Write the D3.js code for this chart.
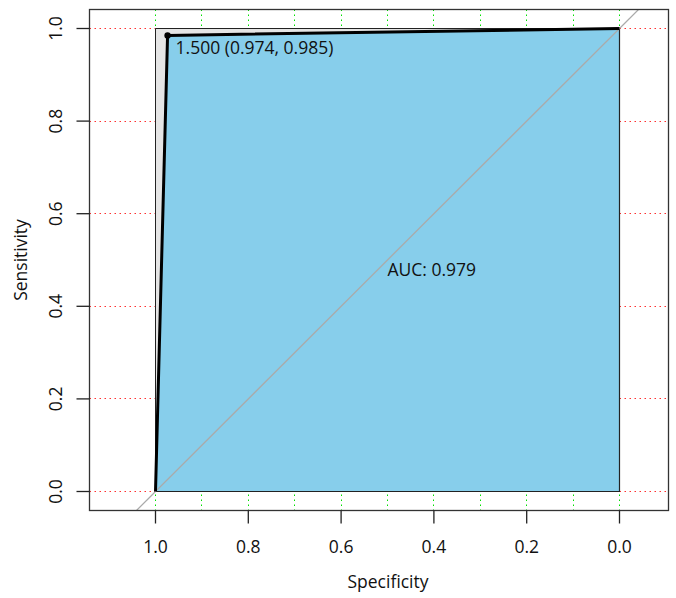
<!DOCTYPE html>
<html><head><meta charset="utf-8">
<script src="https://cdn.jsdelivr.net/npm/d3@7"></script>
<style>body{margin:0;background:#fff}svg{display:block}text{font-family:"Open Sans","Noto Sans",sans-serif;fill:#111}</style>
</head><body>
<script>
const specificity = [1, 0.974, 0];
const sensitivity = [0, 0.985, 1];
const xTicks = [1.0, 0.8, 0.6, 0.4, 0.2, 0.0];
const yTicks = [0.0, 0.2, 0.4, 0.6, 0.8, 1.0];
const xGrid = [1.0, 0.9, 0.8, 0.7, 0.6, 0.5, 0.4, 0.3, 0.2, 0.1, 0.0];
const thresholdLabel = "1.500 (0.974, 0.985)";
const aucLabel = "AUC: 0.979";

const W = 676, H = 598, FS = 17.5;
const box = {l: 89.5, r: 668.5, t: 9.5, b: 510.5};
const x = d3.scaleLinear().domain([1, 0]).range([155.5, 619.5]);
const y = d3.scaleLinear().domain([0, 1]).range([491.5, 28.5]);
const snap = v => Math.round(v - 0.5) + 0.5;

const svg = d3.select("body").append("svg").attr("width", W).attr("height", H);
const defs = svg.append("defs");
defs.append("clipPath").attr("id","clip").append("rect")
  .attr("x", box.l).attr("y", box.t).attr("width", box.r-box.l).attr("height", box.b-box.t);

// grids
svg.append("g").selectAll("line").data(yTicks).join("line")
  .attr("x1", box.l).attr("x2", box.r).attr("y1", d=>snap(y(d))).attr("y2", d=>snap(y(d)))
  .attr("stroke","#ff3030").attr("stroke-width",1).attr("stroke-dasharray","1.5,3.5");
svg.append("g").selectAll("line").data(xGrid).join("line")
  .attr("y1", box.t).attr("y2", box.b).attr("x1", d=>snap(x(d))).attr("x2", d=>snap(x(d)))
  .attr("stroke","#00e000").attr("stroke-width",1).attr("stroke-dasharray","1.5,3.5");

// max AUC polygon (grey)
const maxPoly = [[1,0],[1,1],[0,1],[0,0]];
svg.append("path")
  .attr("d", d3.line().x(d=>x(d[0])).y(d=>y(d[1]))(maxPoly) + "Z")
  .attr("fill","#e5e5e5").attr("stroke","#222").attr("stroke-width",1);

// AUC polygon
const aucPoly = specificity.map((s,i)=>[s, sensitivity[i]]).concat([[0,0]]);
svg.append("path")
  .attr("d", d3.line().x(d=>x(d[0])).y(d=>y(d[1]))(aucPoly) + "Z")
  .attr("fill","#87ceeb").attr("stroke","#222").attr("stroke-width",1.2);

// diagonal
svg.append("line").attr("clip-path","url(#clip)")
  .attr("x1", x(1.2)).attr("y1", y(-0.2)).attr("x2", x(-0.2)).attr("y2", y(1.2))
  .attr("stroke","#aaaaaa").attr("stroke-width",1.3);

// ROC curve
svg.append("path")
  .attr("d", d3.line().x((d,i)=>x(specificity[i])).y((d,i)=>y(sensitivity[i]))(specificity))
  .attr("fill","none").attr("stroke","#000").attr("stroke-width",3).attr("stroke-linejoin","round");

// threshold point
svg.append("circle").attr("cx", x(specificity[1])).attr("cy", y(sensitivity[1])).attr("r",3.2).attr("fill","#000");
svg.append("text").attr("x", x(specificity[1]) + 8).attr("y", y(sensitivity[1]) + 19)
  .attr("font-size",FS).text(thresholdLabel);

// AUC text
svg.append("text").attr("x", x(0.5)).attr("y", y(0.5) + 16)
  .attr("font-size",FS).text(aucLabel);

// box
svg.append("rect").attr("x", box.l).attr("y", box.t).attr("width", box.r-box.l).attr("height", box.b-box.t)
  .attr("fill","none").attr("stroke","#333").attr("stroke-width",1.3);

// x axis
const gx = svg.append("g");
gx.selectAll(".t").data(xTicks).join("line").attr("class","t")
  .attr("x1", d=>x(d)).attr("x2", d=>x(d)).attr("y1", box.b).attr("y2", box.b+13).attr("stroke","#222").attr("stroke-width",1.3);
gx.selectAll("text").data(xTicks).join("text")
  .attr("x", d=>x(d)).attr("y", 553).attr("text-anchor","middle").attr("font-size",FS).text(d=>d.toFixed(1));
svg.append("text").attr("x", 388).attr("y", 588).attr("text-anchor","middle").attr("font-size",FS).text("Specificity");

// y axis
const gy = svg.append("g");
gy.selectAll(".t").data(yTicks).join("line").attr("class","t")
  .attr("y1", d=>y(d)).attr("y2", d=>y(d)).attr("x1", box.l).attr("x2", box.l-13).attr("stroke","#222").attr("stroke-width",1.3);
gy.selectAll("text").data(yTicks).join("text")
  .attr("transform", d=>`translate(62,${y(d)}) rotate(-90)`).attr("text-anchor","middle").attr("font-size",FS).text(d=>d.toFixed(1));
svg.append("text").attr("transform", `translate(27,${y(0.5)}) rotate(-90)`).attr("text-anchor","middle").attr("font-size",FS).text("Sensitivity");
</script>
</body></html>
